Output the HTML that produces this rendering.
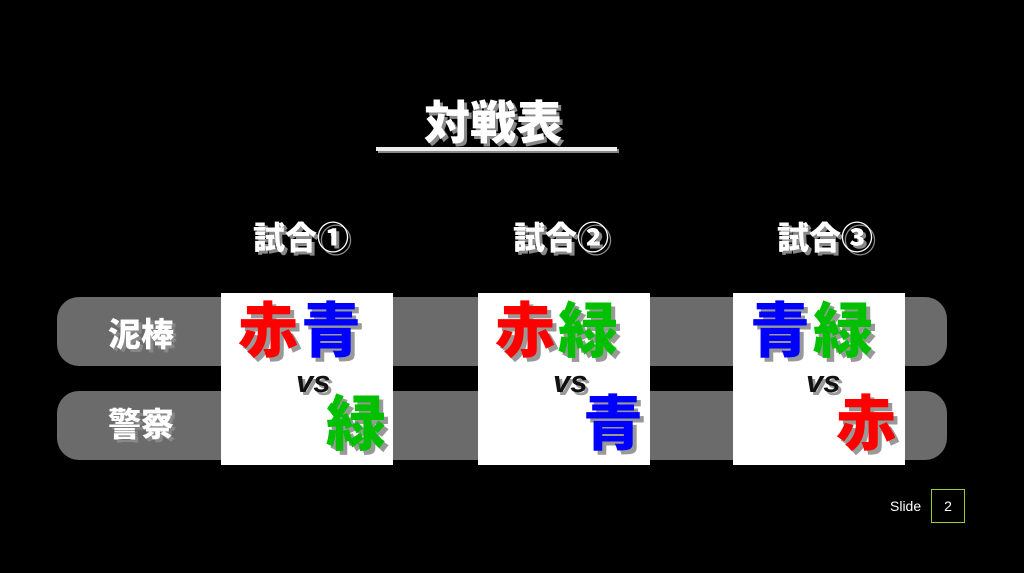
<!DOCTYPE html>
<html><head><meta charset="utf-8"><style>
body{margin:0;width:1024px;height:573px;background:#000;position:relative;overflow:hidden;font-family:"Liberation Sans","Noto Sans CJK JP",sans-serif;}
div{position:absolute;}
.pill{left:57px;width:890px;height:69px;background:#6b6b6b;border-radius:22px;}
.box{top:293px;width:172px;height:172px;background:#fff;}
.t{font-weight:900;line-height:1;white-space:nowrap;}
.w{color:#fff;text-shadow:3px 3px 0 #888;}
.big{font-size:60px;text-shadow:4px 4px 0 #999;}
.r{color:#ff0000}.b{color:#0000ff}.g{color:#00c000}
.vs{font-size:31px;font-style:italic;color:#111;text-shadow:3px 3px 0 #999;font-family:"Liberation Sans",sans-serif;}
</style></head><body>
<div class="t w" style="left:424px;top:100px;font-size:46px;">対戦表</div>
<div style="left:376px;top:147px;width:241px;height:4px;background:#eee;box-shadow:2px 2px 0 #888;"></div>
<div class="t w" style="left:253px;top:222px;font-size:32px;">試合①</div>
<div class="t w" style="left:513px;top:222px;font-size:32px;">試合②</div>
<div class="t w" style="left:777px;top:222px;font-size:32px;">試合③</div>
<div class="pill" style="top:297px"></div>
<div class="pill" style="top:391px"></div>
<div class="t w" style="left:108px;top:318px;font-size:33px;">泥棒</div>
<div class="t w" style="left:108px;top:408px;font-size:33px;">警察</div>
<div class="box" style="left:221px"></div>
<div class="box" style="left:478px"></div>
<div class="box" style="left:733px"></div>
<div class="t big r" style="left:238px;top:302px">赤</div>
<div class="t big b" style="left:301px;top:302px">青</div>
<div class="t vs" style="left:296px;top:366px">vs</div>
<div class="t big g" style="left:326px;top:395px">緑</div>
<div class="t big r" style="left:495px;top:302px">赤</div>
<div class="t big g" style="left:558px;top:302px">緑</div>
<div class="t vs" style="left:553px;top:366px">vs</div>
<div class="t big b" style="left:583px;top:395px">青</div>
<div class="t big b" style="left:750px;top:302px">青</div>
<div class="t big g" style="left:813px;top:302px">緑</div>
<div class="t vs" style="left:806px;top:366px">vs</div>
<div class="t big r" style="left:836px;top:395px">赤</div>
<div style="left:890px;top:498px;color:#fff;font-size:14px;">Slide</div>
<div style="left:931px;top:489px;width:32px;height:32px;border:1px solid #9acd32;color:#fff;font-size:14px;text-align:center;line-height:32px;">2</div>
</body></html>
